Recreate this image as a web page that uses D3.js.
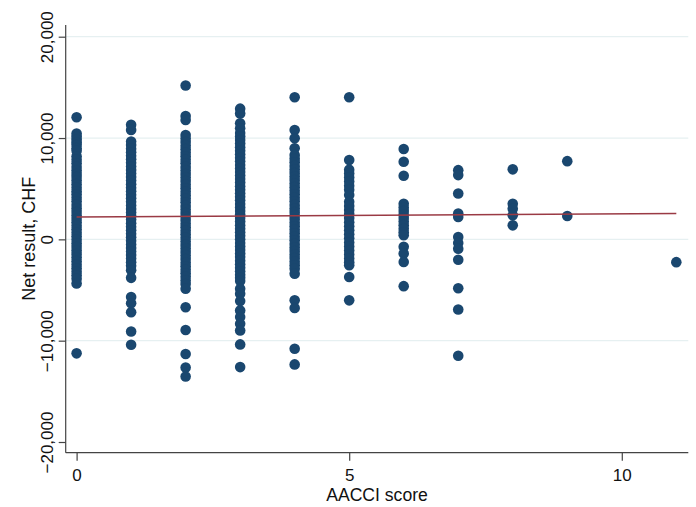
<!DOCTYPE html>
<html>
<head>
<meta charset="utf-8">
<script src="https://cdn.jsdelivr.net/npm/d3@7"></script>
<style>
  html, body { margin: 0; padding: 0; background: #fff; }
  svg { display: block; }
  text { font-family: "Liberation Sans", Arial, sans-serif; fill: #111; }
</style>
</head>
<body>
<svg id="chart" width="696" height="507"></svg>
<script>
// Net result (CHF) per patient, grouped by AACCI score
const aacci0 = [12050, 10450, 10150, 9850, 9550, 9300, 9000, 8750, 8200, 7850, 7500, 7150, 6800, 6450, 6150, 5800, 5450, 5100, 4750, 4450, 4100, 3750, 3400, 3050, 2700, 2350, 2000, 1700, 1350, 1000, 650, 300, -50, -400, -750, -1100, -1450, -1800, -2150, -2500, -2850, -3200, -3550, -3900, -4350, -11250];
const aacci1 = [11300, 10800, 9650, 9300, 8950, 8600, 8250, 7900, 7550, 7200, 6850, 6500, 6150, 5800, 5450, 5100, 4750, 4400, 4050, 3700, 3350, 3000, 2650, 2300, 1950, 1600, 1250, 900, 550, 200, -150, -500, -850, -1200, -1550, -1900, -2250, -2600, -3050, -3800, -5700, -6300, -7200, -9100, -10400];
const aacci2 = [15180, 12180, 11780, 10300, 9950, 9600, 9250, 8900, 8550, 8200, 7850, 7500, 7150, 6800, 6450, 6100, 5750, 5400, 5050, 4700, 4350, 4000, 3650, 3300, 2950, 2600, 2250, 1900, 1550, 1200, 850, 500, 150, -200, -550, -900, -1250, -1600, -1950, -2300, -2650, -3000, -3350, -3700, -4050, -4400, -4880, -6700, -8940, -11320, -12640, -13530];
const aacci3 = [12900, 12430, 11450, 10960, 10500, 10150, 9800, 9450, 9100, 8750, 8400, 8050, 7700, 7350, 7000, 6650, 6300, 5950, 5600, 5250, 4900, 4550, 4200, 3850, 3500, 3150, 2800, 2450, 2100, 1750, 1400, 1050, 700, 350, 0, -350, -700, -1050, -1400, -1750, -2100, -2450, -2800, -3150, -3500, -3800, -4100, -4870, -5360, -6090, -7010, -7670, -8330, -8990, -10370, -12610];
const aacci4 = [14030, 10790, 9970, 8980, 8320, 7950, 7600, 7250, 6900, 6550, 6200, 5850, 5500, 5150, 4800, 4450, 4100, 3750, 3400, 3050, 2700, 2350, 2000, 1650, 1300, 950, 600, 250, -100, -450, -800, -1150, -1500, -1850, -2200, -2550, -2900, -3390, -6020, -6780, -10790, -12340];
const aacci5 = [14030, 7820, 6880, 6500, 6100, 5700, 5300, 4900, 4370, 3700, 3300, 2900, 2500, 2100, 1700, 1300, 900, 500, 100, -300, -700, -1100, -1500, -1900, -2250, -2550, -3720, -6020];
const aacci6 = [8910, 7660, 6270, 3520, 3150, 2800, 2450, 2100, 1750, 1400, 1050, 700, 400, -740, -1400, -2230, -4620];
const aacci7 = [6830, 6340, 4520, 2540, 2210, 230, -360, -920, -2010, -4820, -6930, -11490];
const aacci8 = [6910, 3520, 3030, 2370, 1380];
const aacci9 = [7720, 2310];
const aacci11 = [-2250];

const scoreGroups = [
  [0, aacci0], [1, aacci1], [2, aacci2], [3, aacci3], [4, aacci4],
  [5, aacci5], [6, aacci6], [7, aacci7], [8, aacci8], [9, aacci9], [11, aacci11]
];

// Linear fit of net result on AACCI score
const fitScore = [0, 11];
const fitValue = [2200, 2560];

const xTickValues = [0, 5, 10];
const yTickValues = [-20000, -10000, 0, 10000, 20000];
const yGridValues = [-10000, 0, 10000, 20000];

const points = scoreGroups.flatMap(([s, vals]) => vals.map(v => ({ score: s, value: v })));

const plot = { left: 65.7, right: 688.3, top: 25, bottom: 452.7 };

const x = d3.scaleLinear()
  .domain([-0.2, 11.22])
  .range([plot.left, plot.right]);

const y = d3.scaleLinear()
  .domain([-21056, 21155])
  .range([plot.bottom, plot.top]);

const svg = d3.select("#chart");

// horizontal grid
svg.append("g")
  .selectAll("line")
  .data(yGridValues)
  .join("line")
  .attr("x1", plot.left)
  .attr("x2", plot.right)
  .attr("y1", d => y(d))
  .attr("y2", d => y(d))
  .attr("stroke", "#e6f0f1")
  .attr("stroke-width", 1.2);

// scatter points
svg.append("g")
  .selectAll("circle")
  .data(points)
  .join("circle")
  .attr("cx", d => x(d.score))
  .attr("cy", d => y(d.value))
  .attr("r", 5.3)
  .attr("fill", "#1a476f");

// fitted line
svg.append("line")
  .attr("x1", x(fitScore[0]))
  .attr("x2", x(fitScore[1]))
  .attr("y1", y(fitValue[0]))
  .attr("y2", y(fitValue[1]))
  .attr("stroke", "#9a3a44")
  .attr("stroke-width", 1.5);

// x axis
const xAxis = d3.axisBottom(x)
  .tickValues(xTickValues)
  .tickFormat(d3.format("d"))
  .tickSize(8)
  .tickSizeOuter(0);

const gx = svg.append("g")
  .attr("transform", `translate(0,${plot.bottom})`)
  .call(xAxis);
gx.select(".domain").attr("stroke", "#444").attr("stroke-width", 1.2)
  .attr("d", `M${plot.left},0H${plot.right}`);
gx.selectAll(".tick line").attr("stroke", "#444").attr("stroke-width", 1.2);
gx.selectAll(".tick text")
  .attr("y", 28.5)
  .attr("dy", null)
  .style("font-size", "17px")
  .style("font-family", "'Liberation Sans', Arial, sans-serif")
  .attr("fill", "#111");

// y axis
const yAxis = d3.axisLeft(y)
  .tickValues(yTickValues)
  .tickFormat(d3.format(","))
  .tickSize(7)
  .tickSizeOuter(0);

const gy = svg.append("g")
  .attr("transform", `translate(${plot.left},0)`)
  .call(yAxis);
gy.select(".domain").attr("stroke", "#444").attr("stroke-width", 1.2)
  .attr("d", `M0,${plot.top}V${plot.bottom}`);
gy.selectAll(".tick line").attr("stroke", "#444").attr("stroke-width", 1.2);
gy.selectAll(".tick text")
  .attr("x", null)
  .attr("dy", null)
  .attr("text-anchor", "middle")
  .attr("transform", "translate(-13,0) rotate(-90)")
  .attr("y", 0)
  .style("font-size", "17px")
  .style("font-family", "'Liberation Sans', Arial, sans-serif")
  .attr("fill", "#111");

// axis titles, centred on the plot region
svg.append("text")
  .attr("x", (plot.left + plot.right) / 2)
  .attr("y", 501)
  .attr("text-anchor", "middle")
  .style("font-size", "17.6px")
  .text("AACCI score");

svg.append("text")
  .attr("transform", `translate(35,${(plot.top + plot.bottom) / 2}) rotate(-90)`)
  .attr("text-anchor", "middle")
  .style("font-size", "18px")
  .text("Net result, CHF");
</script>
</body>
</html>
